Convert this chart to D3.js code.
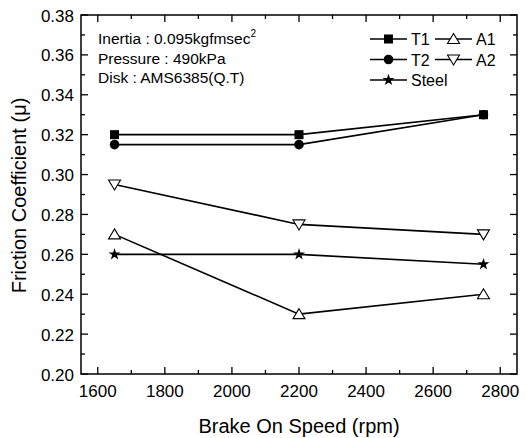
<!DOCTYPE html>
<html>
<head>
<meta charset="utf-8">
<script src="https://cdn.jsdelivr.net/npm/d3@7"></script>
<style>
  body { margin: 0; background: #fff; }
  svg { display: block; font-family: Arial, "Liberation Sans", sans-serif; }
</style>
</head>
<body>
<svg id="chart" width="526" height="438"></svg>
<script>
// Brake-on speed (rpm) at each test point
const speeds = [1650, 2200, 2750];

// Friction coefficient per pad material
const seriesNames = ["T1", "T2", "A1", "A2", "Steel"];
const t1 = [0.320, 0.320, 0.330];
const t2 = [0.315, 0.315, 0.330];
const a1 = [0.270, 0.230, 0.240];
const a2 = [0.295, 0.275, 0.270];
const steel = [0.260, 0.260, 0.255];

const xTicks = [1600, 1800, 2000, 2200, 2400, 2600, 2800];
const yTicks = [0.20, 0.22, 0.24, 0.26, 0.28, 0.30, 0.32, 0.34, 0.36, 0.38];

const notes = ["Inertia : 0.095kgfmsec", "Pressure : 490kPa", "Disk : AMS6385(Q.T)"];

const symbols = {
  T1: "square", T2: "circle", A1: "triUp", A2: "triDown", Steel: "star"
};
const values = { T1: t1, T2: t2, A1: a1, A2: a2, Steel: steel };

const svg = d3.select("#chart");
const m = { left: 81, right: 517, top: 15, bottom: 374 };

const x = d3.scaleLinear().domain([1550, 2850]).range([m.left, m.right]);
const y = d3.scaleLinear().domain([0.20, 0.38]).range([m.bottom, m.top]);

// Frame
svg.append("rect")
  .attr("x", m.left).attr("y", m.top)
  .attr("width", m.right - m.left).attr("height", m.bottom - m.top)
  .attr("fill", "none").attr("stroke", "#000").attr("stroke-width", 1.5);

// Inward-pointing ticks on all four sides
const xMinor = d3.range(1600, 2850, 100);
const yMinor = d3.range(0, 19).map(i => 0.20 + i * 0.01);
const tk = svg.append("g").attr("stroke", "#000").attr("stroke-width", 1.3);
xMinor.forEach(v => {
  const len = (v % 200 === 0) ? 7 : 4;
  tk.append("line").attr("x1", x(v)).attr("x2", x(v)).attr("y1", m.bottom).attr("y2", m.bottom - len);
  tk.append("line").attr("x1", x(v)).attr("x2", x(v)).attr("y1", m.top).attr("y2", m.top + len);
});
yMinor.forEach((v, i) => {
  const len = (i % 2 === 0) ? 7 : 4;
  tk.append("line").attr("y1", y(v)).attr("y2", y(v)).attr("x1", m.left).attr("x2", m.left + len);
  tk.append("line").attr("y1", y(v)).attr("y2", y(v)).attr("x1", m.right).attr("x2", m.right - len);
});

// Tick labels
svg.append("g").selectAll("text").data(xTicks).join("text")
  .attr("x", d => x(d)).attr("y", m.bottom + 23)
  .attr("text-anchor", "middle").attr("font-size", 17)
  .text(d => d);
svg.append("g").selectAll("text").data(yTicks).join("text")
  .attr("x", m.left - 7).attr("y", d => y(d) + 6.5)
  .attr("text-anchor", "end").attr("font-size", 17)
  .text(d => d.toFixed(2));

// Axis titles
svg.append("text")
  .attr("x", (m.left + m.right) / 2).attr("y", 433)
  .attr("text-anchor", "middle").attr("font-size", 20)
  .text("Brake On Speed (rpm)");
svg.append("text")
  .attr("transform", `translate(26, ${(m.top + m.bottom) / 2 + 1}) rotate(-90)`)
  .attr("text-anchor", "middle").attr("font-size", 20)
  .text("Friction Coefficient (μ)");

// Marker drawing
function marker(g, type, cx, cy) {
  switch (type) {
    case "square":
      g.append("rect").attr("x", cx - 4.5).attr("y", cy - 4.5).attr("width", 9).attr("height", 9).attr("fill", "#000");
      break;
    case "circle":
      g.append("circle").attr("cx", cx).attr("cy", cy).attr("r", 4.8).attr("fill", "#000");
      break;
    case "triUp":
      g.append("path").attr("d", `M${cx},${cy - 5.5}L${cx + 6},${cy + 4.5}L${cx - 6},${cy + 4.5}Z`)
        .attr("fill", "#fff").attr("stroke", "#000").attr("stroke-width", 1.1);
      break;
    case "triDown":
      g.append("path").attr("d", `M${cx},${cy + 5.5}L${cx + 6},${cy - 4.5}L${cx - 6},${cy - 4.5}Z`)
        .attr("fill", "#fff").attr("stroke", "#000").attr("stroke-width", 1.1);
      break;
    case "star":
      g.append("path").attr("d", d3.symbol(d3.symbolStar, 45)()).attr("transform", `translate(${cx},${cy})`)
        .attr("fill", "#000");
      break;
  }
}

// Series lines and markers
const line = d3.line().x((d, i) => x(speeds[i])).y(d => y(d));
const plot = svg.append("g");
["Steel", "A1", "A2", "T2", "T1"].forEach(name => {
  plot.append("path").datum(values[name])
    .attr("d", line).attr("fill", "none").attr("stroke", "#000").attr("stroke-width", 1.6);
});
["Steel", "A1", "A2", "T2", "T1"].forEach(name => {
  values[name].forEach((v, i) => marker(plot, symbols[name], x(speeds[i]), y(v)));
});

// Test condition notes
const nt = svg.append("g").attr("font-size", 15.5);
notes.forEach((s, i) => {
  const t = nt.append("text").attr("x", 98).attr("y", 44 + i * 19.5).text(s);
  if (i === 0) t.append("tspan").attr("dy", -7).attr("font-size", 10).text("2");
});

// Legend
const lg = svg.append("g").attr("font-size", 16);
const legendItems = [
  { name: "T1", col: 0, row: 0 }, { name: "A1", col: 1, row: 0 },
  { name: "T2", col: 0, row: 1 }, { name: "A2", col: 1, row: 1 },
  { name: "Steel", col: 0, row: 2 }
];
legendItems.forEach(it => {
  const x0 = 370 + it.col * 65;
  const yy = 39 + it.row * 20.5;
  lg.append("line").attr("x1", x0).attr("x2", x0 + 37).attr("y1", yy).attr("y2", yy)
    .attr("stroke", "#000").attr("stroke-width", 1.6);
  marker(lg, symbols[it.name], x0 + 18.5, yy);
  lg.append("text").attr("x", x0 + 41).attr("y", yy + 6).text(it.name);
});
</script>
</body>
</html>
